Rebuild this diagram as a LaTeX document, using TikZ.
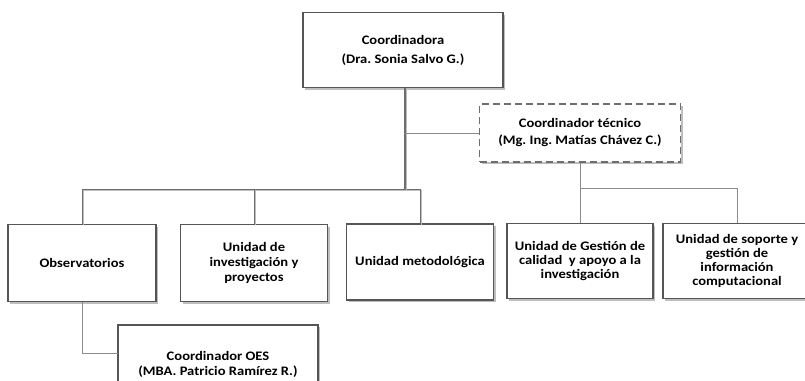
\documentclass[tikz,border=0pt]{standalone}
\usepackage{fontspec}
\setmainfont{Carlito}[FakeStretch=1.12]
\usepackage{tikz}
\usetikzlibrary{positioning,shadows,calc}
\usepackage{xcolor}
\definecolor{boxgray}{RGB}{85,85,85}
\definecolor{linegray}{RGB}{110,110,110}
\definecolor{shadegray}{RGB}{190,190,190}
\frenchspacing

\begin{document}
\begin{tikzpicture}[x=1pt, y=-1pt,
    unit/.style={draw=boxgray, line width=1.1pt, fill=white, align=center,
      font=\bfseries\fontsize{13}{15}\selectfont, inner sep=0pt,
      drop shadow={shadow xshift=2pt, shadow yshift=-2pt, fill=shadegray, opacity=1}},
    link/.style={draw=linegray, line width=0.9pt,
      preaction={draw=shadegray, line width=1.2pt,
        transform canvas={shift={(1.5pt,-1.5pt)}}}},
    thinlink/.style={draw=linegray!80, line width=0.8pt}]
        \useasboundingbox (0,0) rectangle (805,380);
        % Top level
        \node[unit, minimum width=200, minimum height=75,
          font=\bfseries\fontsize{13}{19}\selectfont] (coord) at (403,50)
          {Coordinadora\\(Dra. Sonia Salvo G.)};
        \node[unit, draw=linegray, line width=1.4pt, dash pattern=on 7pt off 4pt,
          minimum width=201, minimum height=58,
          font=\bfseries\fontsize{13}{17}\selectfont] (tecnico) at (580,133)
          {Coordinador técnico\\(Mg. Ing. Matías Chávez C.)};
        % Units
        \node[unit, minimum width=148, minimum height=77] (obs) at (82,263) {Observatorios};
        \node[unit, minimum width=147, minimum height=77] (invest) at (254,263)
          {Unidad de\\investigación y\\proyectos};
        \node[unit, minimum width=147, minimum height=76] (metod) at (420,262)
          {Unidad metodológica};
        \node[unit, minimum width=146, minimum height=75,
          font=\bfseries\fontsize{13}{14}\selectfont] (gestion) at (580,261)
          {Unidad de Gestión de\\calidad\ \ y apoyo a la\\investigación};
        \node[unit, minimum width=148, minimum height=75,
          font=\bfseries\fontsize{13}{13.7}\selectfont] (soporte) at (737,261)
          {Unidad de soporte y\\gestión de\\información\\computacional};
        \node[unit, minimum width=200, minimum height=78] (oes) at (218,364)
          {Coordinador OES\\(MBA. Patricio Ramírez R.)};
        % Connectors
        \coordinate (split) at (405,189);
        \coordinate (oesin) at (118,353);
        \draw[link] (split) -| (obs.north);
        \draw[link] (split) -| (invest.north);
        \draw[link] (split) -| (metod.north);
        \draw[link, line width=2.4pt] (coord.south -| split) -- (split);
        \draw[thinlink] (split |- tecnico.west) -- (tecnico.west);
        \draw[thinlink] (tecnico.south) -- ++(0,26) coordinate (fork) -| (soporte.north);
        \draw[thinlink] (fork) -- (gestion.north);
        \draw[thinlink] (obs.south) |- (oesin);
      \end{tikzpicture}
\end{document}
